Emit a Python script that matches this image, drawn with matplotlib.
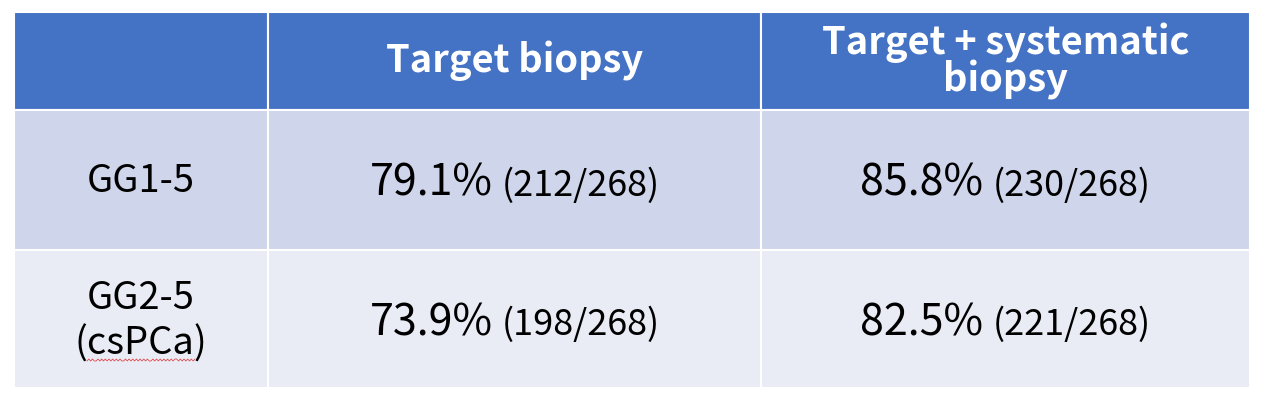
import matplotlib
matplotlib.use("Agg")
import matplotlib.pyplot as plt
from matplotlib.patches import Rectangle
import numpy as np

plt.rcParams['font.family'] = ['Noto Sans CJK JP', 'DejaVu Sans']

# table content
col_headers = ["", "Target biopsy", "Target + systematic\nbiopsy"]
row_labels = ["GG1-5", "GG2-5\n(csPCa)"]
pct = [["79.1%", "85.8%"],
       ["73.9%", "82.5%"]]
counts = [["(212/268)", "(230/268)"],
          ["(198/268)", "(221/268)"]]

# layout in pixels
col_edges = [14, 268, 761, 1250]
row_edges = [12, 110, 250, 388]
header_color = "#4472C4"
row_colors = ["#CFD5EA", "#E9EBF5"]

PX = 72 / 100  # px -> pt at dpi 100

fig = plt.figure(figsize=(12.69, 4.05), dpi=100)
ax = fig.add_axes([0, 0, 1, 1])
ax.set_xlim(0, 1269)
ax.set_ylim(405, 0)
ax.axis("off")

for r in range(3):
    for c in range(3):
        x0, x1 = col_edges[c], col_edges[c + 1]
        y0, y1 = row_edges[r], row_edges[r + 1]
        fc = header_color if r == 0 else row_colors[r - 1]
        ax.add_patch(Rectangle((x0, y0), x1 - x0, y1 - y0, facecolor=fc,
                               edgecolor="white", linewidth=1.5))

def cx(c):
    return (col_edges[c] + col_edges[c + 1]) / 2

def cy(r):
    return (row_edges[r] + row_edges[r + 1]) / 2

# header
for c in range(1, 3):
    ax.text(cx(c), cy(0), col_headers[c], color="white", fontweight="bold",
            fontsize=38 * PX, ha="center", va="center", linespacing=0.92)

# row labels
for r, lab in enumerate(row_labels):
    ax.text(cx(0), cy(r + 1) + 2, lab, color="black", fontsize=38 * PX,
            ha="center", va="center", linespacing=1.22)

# spell-check squiggle under csPCa
xs = np.linspace(87, 195, 60)
ax.plot(xs, 360 + 1.0 * np.sign(np.sin(xs * 1.6)), color="#E03030", lw=0.5)

# values
fig.canvas.draw()
renderer = fig.canvas.get_renderer()
gap = 9
for r in range(2):
    for c in range(2):
        base = cy(r + 1) + 16
        t1 = ax.text(0, base, pct[r][c], fontsize=43 * PX, va="baseline", ha="left")
        t2 = ax.text(0, base, counts[r][c], fontsize=36 * PX, va="baseline", ha="left")
        w1 = t1.get_window_extent(renderer).width
        w2 = t2.get_window_extent(renderer).width
        total = w1 + gap + w2
        left = cx(c + 1) - total / 2
        t1.set_x(left)
        t2.set_x(left + w1 + gap)

fig.savefig("out.png", dpi=100)
